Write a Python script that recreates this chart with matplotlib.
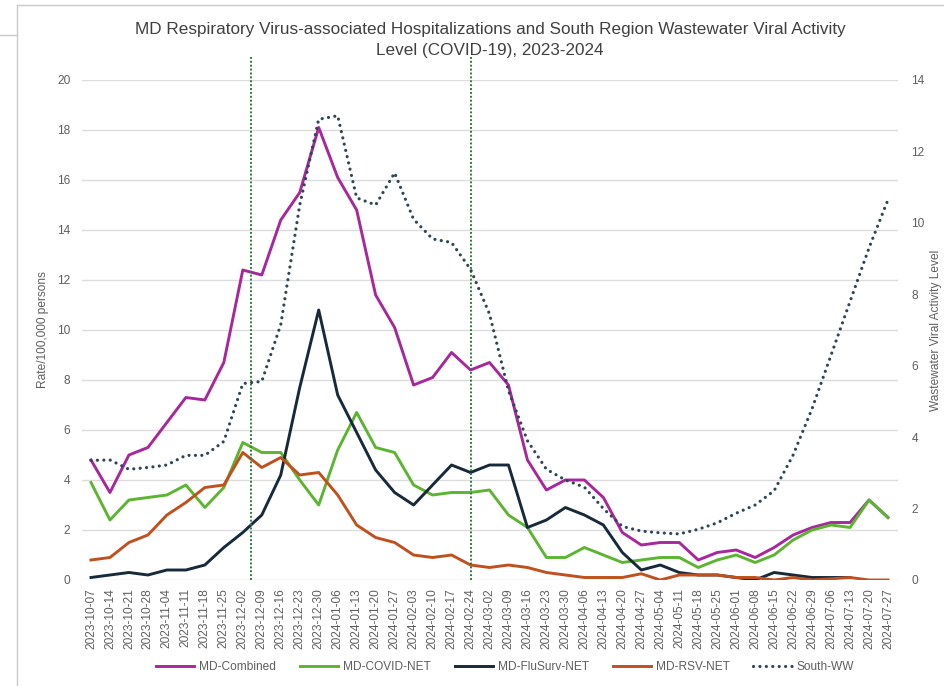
import numpy as np
import pandas as pd
import matplotlib
matplotlib.use("Agg")
import matplotlib.pyplot as plt
from matplotlib.lines import Line2D

# weekly series, week ending dates
weeks = pd.date_range("2023-10-07", "2024-07-27", freq="7D").strftime("%Y-%m-%d").tolist()

md_combined = [4.8, 3.5, 5.0, 5.3, 6.3, 7.3, 7.2, 8.7, 12.4, 12.2, 14.4, 15.5, 18.1, 16.1,
               14.8, 11.4, 10.1, 7.8, 8.1, 9.1, 8.4, 8.7, 7.8, 4.8, 3.6, 4.0, 4.0, 3.3,
               1.9, 1.4, 1.5, 1.5, 0.8, 1.1, 1.2, 0.9, 1.3, 1.8, 2.1, 2.3, 2.3, 3.2, 2.5]
md_covid = [3.9, 2.4, 3.2, 3.3, 3.4, 3.8, 2.9, 3.7, 5.5, 5.1, 5.1, 4.0, 3.0, 5.2,
            6.7, 5.3, 5.1, 3.8, 3.4, 3.5, 3.5, 3.6, 2.6, 2.1, 0.9, 0.9, 1.3, 1.0,
            0.7, 0.8, 0.9, 0.9, 0.5, 0.8, 1.0, 0.7, 1.0, 1.6, 2.0, 2.2, 2.1, 3.2, 2.5]
md_flusurv = [0.1, 0.2, 0.3, 0.2, 0.4, 0.4, 0.6, 1.3, 1.9, 2.6, 4.2, 7.7, 10.8, 7.4,
              5.9, 4.4, 3.5, 3.0, 3.8, 4.6, 4.3, 4.6, 4.6, 2.1, 2.4, 2.9, 2.6, 2.2,
              1.1, 0.4, 0.6, 0.3, 0.2, 0.2, 0.1, 0.0, 0.3, 0.2, 0.1, 0.1, 0.1, np.nan, np.nan]
md_rsv = [0.8, 0.9, 1.5, 1.8, 2.6, 3.1, 3.7, 3.8, 5.1, 4.5, 4.9, 4.2, 4.3, 3.4,
          2.2, 1.7, 1.5, 1.0, 0.9, 1.0, 0.6, 0.5, 0.6, 0.5, 0.3, 0.2, 0.1, 0.1,
          0.1, 0.25, 0.0, 0.2, 0.2, 0.2, 0.1, 0.1, 0.0, 0.1, 0.0, 0.05, 0.1, 0.0, 0.0]
south_ww = [3.35, 3.36, 3.1, 3.15, 3.22, 3.49, 3.49, 3.88, 5.5, 5.56, 7.15, 10.5, 12.9, 13.0,
            10.7, 10.5, 11.4, 10.1, 9.55, 9.45, 8.7, 7.45, 5.3, 3.9, 3.1, 2.8, 2.6, 2.0,
            1.5, 1.37, 1.32, 1.29, 1.42, 1.6, 1.87, 2.1, 2.5, 3.5, 4.8, 6.3, 7.8, 9.3, 10.65]

# season markers (dates)
marker_dates = ["2023-12-05", "2024-02-24"]

C_COMB = "#a8279c"
C_COVID = "#5cb531"
C_FLU = "#17293a"
C_RSV = "#c0501d"
C_WW = "#2c4656"
C_MARK = "#2f7d3a"
GRAY = "#5f5f5f"

plt.rcParams['font.family'] = ['Liberation Sans', 'DejaVu Sans']

fig = plt.figure(figsize=(9.44, 6.86), dpi=100)
ax = fig.add_axes([81.5 / 944, 106 / 686, 816 / 944, 500 / 686])
ax2 = ax.twinx()

x = np.arange(len(weeks))
ax.plot(x, md_combined, color=C_COMB, lw=2.1, label="MD-Combined", zorder=3)
ax.plot(x, md_covid, color=C_COVID, lw=2.1, label="MD-COVID-NET", zorder=3)
ax.plot(x, md_flusurv, color=C_FLU, lw=2.1, label="MD-FluSurv-NET", zorder=3)
ax.plot(x, md_rsv, color=C_RSV, lw=2.1, label="MD-RSV-NET", zorder=3)
ww_line, = ax2.plot(x, south_ww, color=C_WW, lw=2.3, linestyle=(0, (0.01, 2.0)),
                    dash_capstyle="round", label="South-WW")

start = pd.Timestamp(weeks[0])
for d in marker_dates:
    pos = (pd.Timestamp(d) - start).days / 7
    ax.axvline(pos, ymin=0, ymax=1.046, color=C_MARK, lw=1.4, linestyle=(0, (1, 1)),
               clip_on=False, zorder=4)

ax.set_xlim(-0.5, len(weeks) - 0.5)
ax.set_ylim(0, 20)
ax2.set_ylim(0, 14)
ax.set_yticks(np.arange(0, 21, 2))
ax2.set_yticks(np.arange(0, 15, 2))
ax.set_xticks(x)
ax.set_xticklabels(weeks, rotation=90, fontsize=8.6, color=GRAY)
ax.tick_params(axis="x", length=0, pad=6)
ax.tick_params(axis="y", length=0, pad=8, labelsize=8.6, labelcolor=GRAY)
ax2.tick_params(axis="y", length=0, pad=10, labelsize=8.6, labelcolor=GRAY)

ax.grid(axis="y", color="#dcdcdc", lw=1.0)
ax.set_axisbelow(True)
for a in (ax, ax2):
    for s in a.spines.values():
        s.set_visible(False)

ax.set_ylabel("Rate/100,000 persons", fontsize=8.6, color=GRAY, labelpad=6)
ax2.set_ylabel("Wastewater Viral Activity Level", fontsize=8.6, color=GRAY, labelpad=4)

fig.text(0.519, 0.942,
         "MD Respiratory Virus-associated Hospitalizations and South Region Wastewater Viral Activity\n"
         "Level (COVID-19), 2023-2024",
         ha="center", va="center", fontsize=12.3, color="#404040", linespacing=1.5,
         family=['Liberation Sans Narrow', 'Liberation Sans', 'DejaVu Sans'])

handles = ax.get_lines()[:4] + [ww_line]
fig.legend(handles, [h.get_label() for h in handles], loc="center",
           bbox_to_anchor=(0.535, 0.027), ncol=5, frameon=False, fontsize=8.6,
           handlelength=3.2, columnspacing=2.0, handletextpad=0.4, labelcolor=GRAY)

# outline of the surrounding panels
edge = "#c9c9c9"
fig.add_artist(Line2D([17 / 944, 1], [1 - 5 / 686] * 2, color=edge, lw=1))
fig.add_artist(Line2D([17 / 944] * 2, [0, 1 - 5 / 686], color=edge, lw=1))
fig.add_artist(Line2D([0, 17 / 944], [1 - 35 / 686] * 2, color=edge, lw=1))

fig.savefig("out.png", dpi=100)
